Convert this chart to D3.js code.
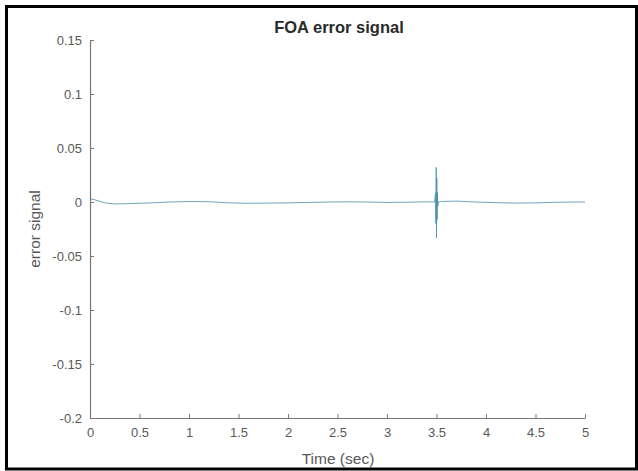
<!DOCTYPE html>
<html><head><meta charset="utf-8">
<script src="https://cdn.jsdelivr.net/npm/d3@7"></script>
<style>body{margin:0;background:#fff}svg{display:block}</style>
</head><body>
<script>
const times = [0, 0.05, 0.15, 0.25, 0.4, 0.6, 0.8, 1.0, 1.2, 1.4, 1.6, 1.8, 2.0, 2.2, 2.4, 2.6, 2.8, 3.0, 3.2, 3.4, 3.48, 3.49, 3.494, 3.497, 3.5, 3.503, 3.506, 3.509, 3.512, 3.52, 3.55, 3.7, 3.9, 4.1, 4.3, 4.5, 4.7, 4.9, 5.0];
const errorValues = [0.003, 0.002, -0.0008, -0.0018, -0.0015, -0.0009, 0.0, 0.0004, 0.0003, -0.0008, -0.0012, -0.001, -0.0008, -0.0004, 0.0, 0.0002, 0.0, -0.0004, -0.0002, 0.0002, 0.0, 0.008, -0.02, 0.032, -0.033, 0.022, -0.016, 0.009, -0.004, 0.0, 0.0005, 0.0008, 0.0, -0.0006, -0.001, -0.0008, -0.0003, 0.0, 0.0];
const xTicks = [0, 0.5, 1, 1.5, 2, 2.5, 3, 3.5, 4, 4.5, 5];
const yTicks = [0.15, 0.1, 0.05, 0, -0.05, -0.1, -0.15, -0.2];
const title = "FOA error signal", xLabel = "Time (sec)", yLabel = "error signal";

const W = 638, H = 471;
const svg = d3.select("body").append("svg").attr("width", W).attr("height", H);
svg.append("rect").attr("x", 6.5).attr("y", 6.5).attr("width", 630).attr("height", 462.5)
  .attr("fill", "#fff").attr("stroke", "#000").attr("stroke-width", 3);

const x = d3.scaleLinear().domain([0, 5]).range([90, 585]);
const y = d3.scaleLinear().domain([-0.2, 0.15]).range([418, 40]);
const font = "'Liberation Sans', Arial, Helvetica, sans-serif";
const axisCol = "#777", textCol = "#595959";

const line = d3.line().x((d, i) => x(times[i])).y(d => y(d));
svg.append("path").datum(errorValues).attr("d", line).attr("fill", "none")
  .attr("stroke", "#4a8faa").attr("stroke-width", 1).attr("stroke-opacity", 0.8);

const xAxis = svg.append("g").attr("transform", `translate(0,${y(-0.2)})`)
  .call(d3.axisBottom(x).tickValues(xTicks).tickFormat(d3.format("")).tickSizeInner(-4).tickSizeOuter(0).tickPadding(10));
const yAxis = svg.append("g").attr("transform", `translate(${x(0)},0)`)
  .call(d3.axisLeft(y).tickValues(yTicks).tickFormat(d3.format("")).tickSizeInner(-4).tickSizeOuter(0).tickPadding(8));
[xAxis, yAxis].forEach(g => {
  g.select(".domain").attr("stroke", axisCol).attr("stroke-width", 1.2);
  g.selectAll(".tick line").attr("stroke", axisCol);
  g.selectAll(".tick text").attr("fill", textCol).style("font-family", font).style("font-size", "13px");
});
yAxis.selectAll(".tick text").text(d => d === 0 ? "0" : String(d));

svg.append("text").attr("x", 339).attr("y", 33).attr("text-anchor", "middle")
  .style("font-family", font).style("font-size", "16.5px").style("font-weight", "bold").attr("fill", "#2a2a2a").text(title);
svg.append("text").attr("x", 338).attr("y", 464).attr("text-anchor", "middle")
  .style("font-family", font).style("font-size", "15.5px").attr("fill", textCol).text(xLabel);
svg.append("text").attr("transform", "translate(40,229) rotate(-90)").attr("text-anchor", "middle")
  .style("font-family", font).style("font-size", "15.5px").attr("fill", textCol).text(yLabel);
</script>
</body></html>
